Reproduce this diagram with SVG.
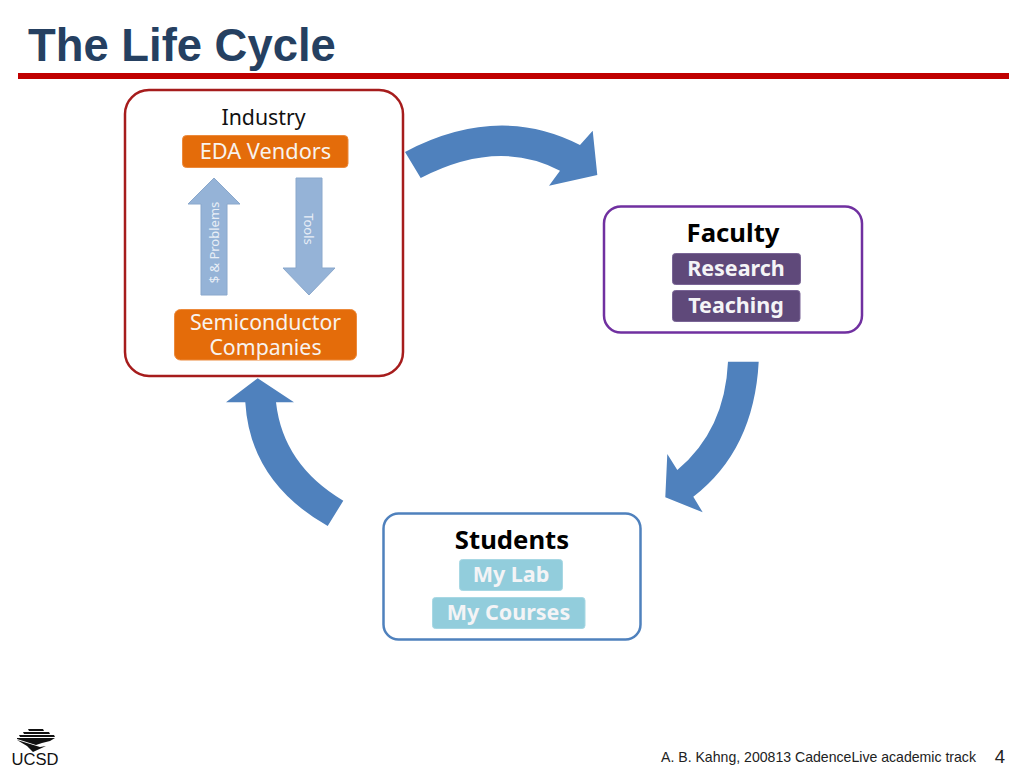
<svg xmlns="http://www.w3.org/2000/svg" width="1024" height="768" viewBox="0 0 1024 768">
<style>
text{font-family:"Noto Sans","DejaVu Sans",sans-serif;text-anchor:middle}
.frame{fill:#fff;stroke-width:2.5}
.org{fill:#e46c0a;stroke:#ec8a3c;stroke-width:1}
.pur{fill:#5f497a;stroke:#7a6596;stroke-width:1}
.teal{fill:#92cddc;stroke:#a8d8e4;stroke-width:1}
.w{fill:#f8f3ee;font-size:21.300px}
.wb{fill:#f4f4f6;font-size:21.500px;font-weight:700}
.hd{fill:#000;font-size:25.700px;font-weight:700}
.flow{fill:#4f81bd}
.thin{fill:#95b3d7;stroke:#8aa8cc;stroke-width:1}
.lab{fill:#e8eef6;font-size:13px}
</style>
<rect width="1024" height="768" fill="#fff"/>
<text x="28" y="61" style="text-anchor:start;font-family:'Liberation Sans',Arial,sans-serif;font-size:45.400px;font-weight:700;fill:#254061">The Life Cycle</text>
<rect x="18" y="73" width="991" height="6" fill="#c00000"/>

<g id="connectors">
<path class="flow" d="M405 152Q498 103 580 145L592.700 130.700L597.300 175L549 185.700L560 170.700Q498 138 420.700 178Z"/>
<path class="flow" d="M728 361.700H758.700Q754 450 693.300 496.700L702.700 512.300L665.300 497.300L667.300 454L677.300 470Q725 430 728 361.700Z"/>
<path class="flow" d="M343.300 500.700Q283 465 276 402.300H294L257.700 378.300L226 402.300H245.300Q250 482 327.700 526Z"/>
</g>

<g id="industry">
<rect class="frame" x="125" y="90" width="278" height="286" rx="24" stroke="#a61c1c"/>
<text x="263.500" y="125" style="font-size:21.300px;fill:#111">Industry</text>
</g>
<g id="eda-vendors">
<rect class="org" x="182.500" y="135.500" width="165.500" height="32" rx="4"/>
<text class="w" x="265.500" y="159" style="font-size:21.800px">EDA Vendors</text>
</g>
<g id="semiconductor-companies">
<rect class="org" x="174.500" y="309.500" width="182" height="50.500" rx="6"/>
<text class="w" x="265.500" y="330">Semiconductor</text>
<text class="w" x="265.500" y="355">Companies</text>
</g>
<g id="problems-arrow">
<polygon class="thin" points="214,178 240,204 227,204 227,295 201,295 201,204 188,204"/>
<text class="lab" transform="translate(219,242.500) rotate(-90)">$ &amp; Problems</text>
</g>
<g id="tools-arrow">
<polygon class="thin" points="296,178 322,178 322,268 335,268 309,295 283,268 296,268"/>
<text class="lab" transform="translate(304,229) rotate(90)">Tools</text>
</g>

<g id="faculty">
<rect class="frame" x="604" y="206.500" width="258" height="126" rx="17" stroke="#7030a0"/>
<text class="hd" x="733" y="242">Faculty</text>
</g>
<g id="research">
<rect class="pur" x="672.500" y="253.500" width="128" height="31" rx="3"/>
<text class="wb" x="736" y="276">Research</text>
</g>
<g id="teaching">
<rect class="pur" x="672.500" y="290.500" width="127.500" height="31" rx="3"/>
<text class="wb" x="736" y="313">Teaching</text>
</g>

<g id="students">
<rect class="frame" x="383.500" y="513.500" width="257" height="126" rx="15" stroke="#4f81bd"/>
<text class="hd" x="512" y="549">Students</text>
</g>
<g id="my-lab">
<rect class="teal" x="459.500" y="559.500" width="103" height="31" rx="3"/>
<text class="wb" x="511" y="582">My Lab</text>
</g>
<g id="my-courses">
<rect class="teal" x="432.500" y="597.500" width="152.500" height="31" rx="3"/>
<text class="wb" x="508.500" y="620">My Courses</text>
</g>

<g id="logo">
<polygon points="28,729 43,729 44,731 29,731" fill="#111"/>
<polygon points="23,732 49,732 50,734 24,734" fill="#111"/>
<polygon points="19,735 54,735 55,737 20,737" fill="#111"/>
<polygon points="17,738 55,738 50,741 42,743 36,745 17,739" fill="#111"/>
<polygon points="17,740 40,747 46,746 33,752 27,746" fill="#111"/>
<text x="35" y="765" style="font-family:'Liberation Sans',sans-serif;font-size:16px;fill:#111" textLength="47" lengthAdjust="spacingAndGlyphs">UCSD</text>
</g>
<text x="661" y="762" style="text-anchor:start;font-family:'Liberation Sans',Arial,sans-serif;font-size:14.100px;fill:#222">A. B. Kahng, 200813 CadenceLive academic track</text>
<text x="1000" y="763" style="font-family:'Liberation Sans',Arial,sans-serif;font-size:18.500px;fill:#222">4</text>
</svg>
